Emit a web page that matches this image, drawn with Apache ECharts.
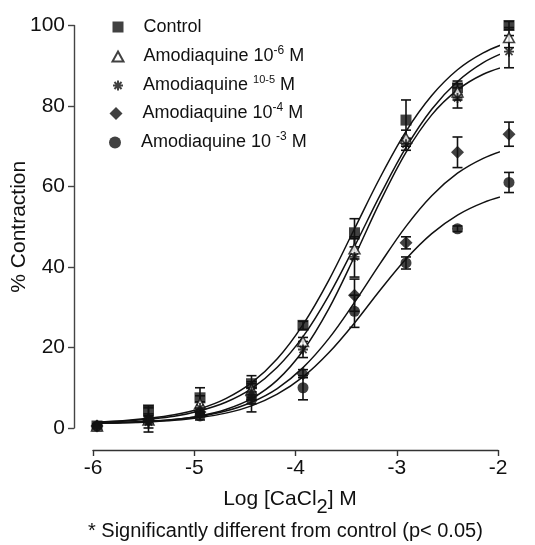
<!DOCTYPE html>
<html>
<head>
<meta charset="utf-8">
<script src="https://cdn.jsdelivr.net/npm/echarts@6/dist/echarts.min.js"></script>
<style>
  html, body { margin: 0; padding: 0; background: #fff; }
  #chart { width: 535px; height: 545px; }
</style>
</head>
<body>
<div id="chart"></div>
<script>
// ---- data ----
const doseLog = [-6, -5.5, -5, -4.5, -4, -3.5, -3, -2.5, -2];
const xTicks = [-6, -5, -4, -3, -2];
const yTicks = [0, 20, 40, 60, 80, 100];

const seriesNames = ['Control', 'Amodiaquine 10-6 M', 'Amodiaquine 10-5 M', 'Amodiaquine 10-4 M', 'Amodiaquine 10-3 M'];
const legendMain = ['Control', 'Amodiaquine 10', 'Amodiaquine ', 'Amodiaquine 10', 'Amodiaquine 10 '];
const legendSup = ['', '-6', '10-5', '-4', '-3'];
const legendTail = ['', ' M', ' M', ' M', ' M'];

const controlMean = [0.5, 4.5, 7.5, 11, 25.5, 48.5, 76.5, 84.5, 100];
const controlSE   = [0.5, 1, 2.5, 2, 1, 3.5, 5, 1.7, 1];
const amo6Mean = [0.5, 2, 6, 9.5, 21.5, 44.5, 72, 83.5, 97];
const amo6SE   = [0.5, 3, 2, 2, 1, 2.5, 2, 2, 2.5];
const amo5Mean = [0.5, 1.5, 5, 9, 19.5, 42.5, 70.5, 82, 93.5];
const amo5SE   = [0.5, 1.5, 1.5, 2, 2, 5, 1.5, 2.5, 4];
const amo4Mean = [0.5, 2, 4, 8, 13.5, 33, 46, 68.5, 73];
const amo4SE   = [0.5, 1, 1, 2, 1, 4, 1.5, 3.8, 3];
const amo3Mean = [0.5, 2, 3, 7, 10, 29, 41, 49.5, 61];
const amo3SE   = [0.5, 1, 1, 3, 3, 4, 1.5, 0.7, 2.5];

// fitted curves
const curveX = [-6, -5.75, -5.5, -5.25, -5, -4.75, -4.5, -4.25, -4, -3.75, -3.5, -3.25, -3, -2.75, -2.5, -2.25, -2];
const controlFit = [1.5, 1.8, 2.4, 3.3, 4.8, 7.3, 11.2, 17.2, 25.7, 36.7, 49.5, 62.3, 73.7, 82.6, 89.0, 93.2, 95.9];
const amo6Fit    = [1.4, 1.7, 2.2, 2.9, 4.3, 6.4, 9.8, 15.1, 22.7, 32.9, 45.1, 57.9, 69.7, 79.2, 86.1, 90.8, 93.8];
const amo5Fit    = [1.2, 1.3, 1.6, 2.1, 3.0, 4.6, 7.3, 11.9, 19.2, 29.6, 42.6, 56.3, 68.5, 77.8, 84.0, 87.9, 90.1];
const amo4Fit    = [1.2, 1.4, 1.7, 2.1, 2.9, 4.2, 6.4, 9.8, 15.0, 22.2, 31.2, 40.9, 50.1, 57.7, 63.3, 67.0, 69.4];
const amo3Fit    = [1.2, 1.3, 1.5, 1.9, 2.6, 3.7, 5.5, 8.4, 12.7, 18.7, 26.1, 34.3, 42.0, 48.3, 52.9, 56.0, 58.0];

const xTitle = ['Log [CaCl', '2', '] M'];
const yTitle = '% Contraction';
const footnote = '* Significantly different from control (p< 0.05)';

// ---- styling ----
const INK = '#111111';
const FONT = "'Liberation Sans', Arial, Helvetica, sans-serif";
const asteriskPath = 'path://M5,0L5,10M0,5L10,5M1.46,1.46L8.54,8.54M8.54,1.46L1.46,8.54';

const means = [controlMean, amo6Mean, amo5Mean, amo4Mean, amo3Mean];
const ses = [controlSE, amo6SE, amo5SE, amo4SE, amo3SE];
const fits = [controlFit, amo6Fit, amo5Fit, amo4Fit, amo3Fit];

const symbols = ['rect', 'triangle', asteriskPath, 'diamond', 'circle'];
const symbolSizes = [11, [11, 10], 10, 13, 11];
const itemStyles = [
  { color: INK },
  { color: '#ffffff', borderColor: INK, borderWidth: 1.5 },
  { color: INK, borderColor: INK, borderWidth: 1.8 },
  { color: INK },
  { color: INK }
];
const legendIconSizes = [[11, 11], [11, 10], [10, 10], [13, 13], [12, 12]];
const legendLeft = [112.5, 111.5, 112, 109.5, 109];
const legendTop = [18, 45, 74.5, 102, 131];
const supSize = [12, 12, 11, 12, 12];

const chart = echarts.init(document.getElementById('chart'), null, { renderer: 'canvas' });

const series = [];
// fitted curves
fits.forEach((f, i) => {
  series.push({
    name: seriesNames[i] + ' fit',
    type: 'line',
    xAxisIndex: 1,
    data: curveX.map((x, k) => [x, f[k]]),
    smooth: 0.35,
    symbol: 'none',
    clip: false,
    silent: true,
    z: 2,
    lineStyle: { color: INK, width: 1.5 }
  });
});
// error bars
means.forEach((m, i) => {
  series.push({
    name: seriesNames[i] + ' err',
    type: 'custom',
    xAxisIndex: 1,
    clip: false,
    silent: true,
    z: 3,
    data: doseLog.map((x, k) => [x, m[k], ses[i][k]]),
    encode: { x: 0, y: 1 },
    renderItem: function (params, api) {
      const x = api.value(0), y = api.value(1), e = api.value(2);
      const hi = api.coord([x, y + e]);
      const lo = api.coord([x, y - e]);
      const hw = 5;
      const st = { stroke: INK, lineWidth: 1.6 };
      return {
        type: 'group',
        children: [
          { type: 'line', shape: { x1: hi[0], y1: hi[1], x2: lo[0], y2: lo[1] }, style: st },
          { type: 'line', shape: { x1: hi[0] - hw, y1: hi[1], x2: hi[0] + hw, y2: hi[1] }, style: st },
          { type: 'line', shape: { x1: lo[0] - hw, y1: lo[1], x2: lo[0] + hw, y2: lo[1] }, style: st }
        ]
      };
    }
  });
});
// points
means.forEach((m, i) => {
  series.push({
    name: seriesNames[i],
    type: 'scatter',
    xAxisIndex: 1,
    clip: false,
    z: 4,
    symbol: symbols[i],
    symbolSize: symbolSizes[i],
    itemStyle: itemStyles[i],
    data: doseLog.map((x, k) => [x, m[k]])
  });
});

const legends = seriesNames.map((nm, i) => ({
  show: true,
  orient: 'vertical',
  left: legendLeft[i],
  top: legendTop[i],
  padding: 0,
  selectedMode: false,
  itemWidth: legendIconSizes[i][0],
  itemHeight: legendIconSizes[i][1],
  data: [{ name: nm, icon: symbols[i] }],
  formatter: function () {
    let s = '{n|   ' + legendMain[i] + '}';
    if (legendSup[i]) s += '{s|' + legendSup[i] + '}';
    if (legendTail[i]) s += '{n|' + legendTail[i] + '}';
    return s;
  },
  textStyle: {
    fontFamily: FONT,
    color: INK,
    rich: {
      n: { fontSize: 18, fontFamily: FONT, color: INK, lineHeight: 23 },
      s: { fontSize: supSize[i], fontFamily: FONT, color: INK, padding: [0, 0, 11, 0] }
    }
  }
}));

const option = {
  animation: false,
  backgroundColor: '#ffffff',
  textStyle: { fontFamily: FONT },
  title: {
    text: footnote,
    left: 88,
    top: 521,
    padding: 0,
    textStyle: { fontFamily: FONT, fontSize: 20, fontWeight: 'normal', color: INK }
  },
  legend: legends,
  grid: { left: 93, top: 25.5, width: 405, height: 402.5, containLabel: false, outerBoundsMode: 'none' },
  xAxis: [
    {
      type: 'value',
      min: xTicks[0],
      max: xTicks[xTicks.length - 1],
      interval: 1,
      position: 'bottom',
      offset: 22,
      axisLine: { show: true, onZero: false, lineStyle: { color: '#333', width: 1.4 } },
      axisTick: { show: true, inside: false, length: 6, lineStyle: { color: '#333', width: 1.4 } },
      axisLabel: { fontSize: 21, color: INK, margin: 8, fontFamily: FONT },
      splitLine: { show: false },
      name: '{n|' + xTitle[0] + '}{b|' + xTitle[1] + '}{n|' + xTitle[2] + '}',
      nameLocation: 'middle',
      nameGap: 31,
      nameMoveOverlap: false,
      nameTextStyle: {
        padding: [0, 11, 0, 0],
        rich: {
          n: { fontSize: 21, fontFamily: FONT, color: INK, lineHeight: 36 },
          b: { fontSize: 20, fontFamily: FONT, color: INK, padding: [16, 0, 0, 0] }
        }
      }
    },
    {
      type: 'value',
      show: false,
      min: -6.0388,
      max: -2.1068,
      position: 'top',
      axisLine: { show: false },
      axisTick: { show: false },
      axisLabel: { show: false },
      splitLine: { show: false }
    }
  ],
  yAxis: {
    type: 'value',
    min: yTicks[0],
    max: yTicks[yTicks.length - 1],
    interval: 20,
    offset: 19,
    axisLine: { show: true, onZero: false, lineStyle: { color: '#444', width: 1.4 } },
    axisTick: { show: true, inside: false, length: 6, lineStyle: { color: '#444', width: 1.4 } },
    axisLabel: { fontSize: 21, color: INK, margin: 9, fontFamily: FONT },
    splitLine: { show: false },
    name: yTitle,
    nameLocation: 'middle',
    nameRotate: 90,
    nameGap: 44,
    nameMoveOverlap: false,
    nameTextStyle: { fontSize: 21, color: INK, fontFamily: FONT }
  },
  series: series
};

chart.setOption(option);
</script>
</body>
</html>
